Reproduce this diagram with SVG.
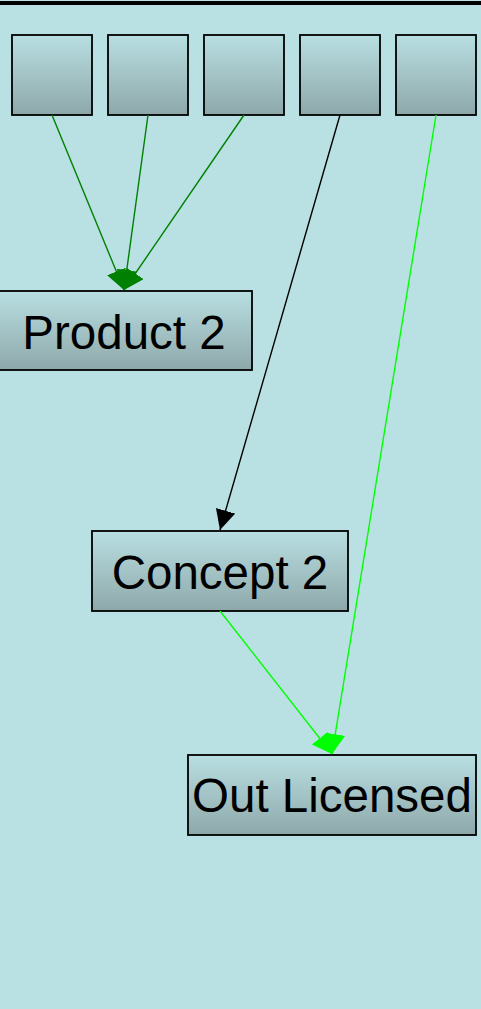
<svg xmlns="http://www.w3.org/2000/svg" width="481" height="1009" viewBox="0 0 481 1009">
  <defs>
    <linearGradient id="g" x1="0" y1="0" x2="0" y2="1">
      <stop offset="0" stop-color="#b9dfe2"/>
      <stop offset="1" stop-color="#8ea8aa"/>
    </linearGradient>
    <marker id="aDG" markerUnits="userSpaceOnUse" markerWidth="20" markerHeight="20" refX="20" refY="10" orient="auto" viewBox="0 0 20 20">
      <path d="M0,0 L20,10 L0,20 z" fill="#008000"/>
    </marker>
    <marker id="aBK" markerUnits="userSpaceOnUse" markerWidth="20" markerHeight="20" refX="20" refY="10" orient="auto" viewBox="0 0 20 20">
      <path d="M0,0 L20,10 L0,20 z" fill="#000000"/>
    </marker>
    <marker id="aLG" markerUnits="userSpaceOnUse" markerWidth="20" markerHeight="20" refX="20" refY="10" orient="auto" viewBox="0 0 20 20">
      <path d="M0,0 L20,10 L0,20 z" fill="#00ff00"/>
    </marker>
  </defs>
  <style>
    .node rect { fill: url(#g); stroke: #000; stroke-width: 1.8; }
    .node text { font-family: "Liberation Sans", Arial, sans-serif; font-size: 47.5px; fill: #000; text-anchor: middle; }
    .edge { fill: none; stroke-width: 1.4; }
  </style>
  <rect x="0" y="0" width="481" height="1009" fill="#b9e0e3"/>
  <rect x="0" y="1" width="481" height="4" fill="#000"/>

  <g id="n1" class="node"><rect x="12" y="35" width="80" height="80"/></g>
  <g id="n2" class="node"><rect x="108" y="35" width="80" height="80"/></g>
  <g id="n3" class="node"><rect x="204" y="35" width="80" height="80"/></g>
  <g id="n4" class="node"><rect x="300" y="35" width="80" height="80"/></g>
  <g id="n5" class="node"><rect x="396" y="35" width="80" height="80"/></g>

  <g id="product2" class="node">
    <rect x="-5" y="291" width="257" height="79"/>
    <text x="124" y="349">Product 2</text>
  </g>
  <g id="concept2" class="node">
    <rect x="92" y="531" width="256" height="80"/>
    <text x="220" y="589">Concept 2</text>
  </g>
  <g id="outlicensed" class="node">
    <rect x="188" y="755" width="288" height="80"/>
    <text x="332" y="812">Out Licensed</text>
  </g>

  <g id="edges">
    <path class="edge" d="M52,115 L124,290" stroke="#008000" marker-end="url(#aDG)"/>
    <path class="edge" d="M148,115 L124,290" stroke="#008000" marker-end="url(#aDG)"/>
    <path class="edge" d="M244,115 L124,290" stroke="#008000" marker-end="url(#aDG)"/>
    <path class="edge" d="M340,115 L220,530" stroke="#000000" marker-end="url(#aBK)"/>
    <path class="edge" d="M436,115 L332,754" stroke="#00ff00" marker-end="url(#aLG)"/>
    <path class="edge" d="M220,611 L332,754" stroke="#00ff00" marker-end="url(#aLG)"/>
  </g>
</svg>
